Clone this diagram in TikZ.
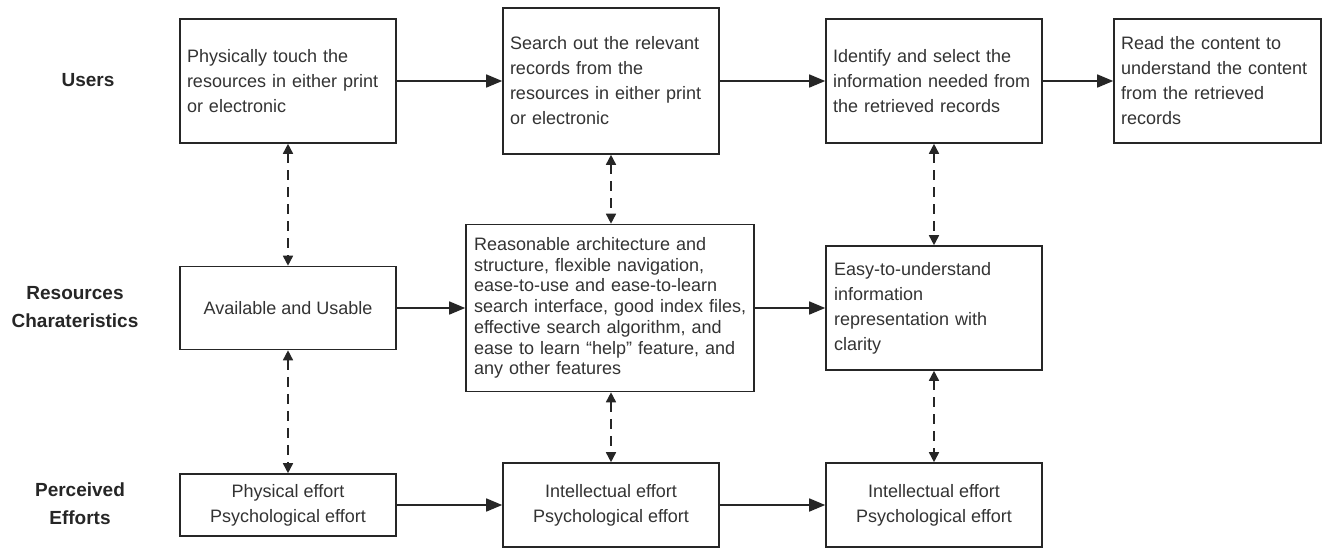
\documentclass[tikz,border=0pt]{standalone}
\usepackage{fontspec}
\setmainfont{Liberation Sans}
\usetikzlibrary{arrows.meta}
\definecolor{ink}{HTML}{262626}
\definecolor{txt}{HTML}{333333}
\begin{document}
\begin{tikzpicture}[x=1pt,y=-1pt,
  box/.style={draw=ink,line width=1.6pt,fill=white,inner xsep=7pt,inner ysep=0pt,
    text=txt,font=\fontsize{18}{25}\selectfont},
  leftbox/.style={box,align=left,text width=#1},
  midbox/.style={box,align=center,minimum width=216pt},
  rowlabel/.style={align=center,text=ink,font=\fontsize{19}{28}\selectfont\bfseries},
  flow/.style={draw=ink,line width=1.6pt,-{Triangle[length=16pt,width=13pt]}},
  link/.style={draw=ink,line width=1.6pt,dash pattern=on 10pt off 7pt,
    {Triangle[length=10pt,width=10pt]}-{Triangle[length=10pt,width=10pt]}}]
\useasboundingbox (0,0) rectangle (1323,547);

% row labels
\node[rowlabel] (lu) at (88,80) {Users};
\node[rowlabel] (lr) at (75,307) {Resources\\Charateristics};
\node[rowlabel] (le) at (80,504) {Perceived\\Efforts};

% users row
\node[leftbox=202pt,minimum height=124pt] (u1) at (288,81)
  {Physically touch the\\resources in either print\\or electronic};
\node[leftbox=202pt,minimum height=146pt] (u2) at (611,81)
  {Search out the relevant\\records from the\\resources in either print\\or electronic};
\node[leftbox=202pt,minimum height=124pt] (u3) at (934,81)
  {Identify and select the\\information needed from\\the retrieved records};
\node[leftbox=193pt,minimum height=124pt] (u4) at (1217.5,81)
  {Read the content to\\understand the content\\from the retrieved\\records};

% resources row
\node[midbox,minimum height=83pt] (r1) at (288,308) {Available and Usable};
\node[leftbox=272pt,inner xsep=8pt,minimum height=167pt,font=\fontsize{18}{20.7}\selectfont] (r2) at (610,308)
  {\mbox{Reasonable architecture and}\\\mbox{structure, flexible navigation,}\\\mbox{ease-to-use and ease-to-learn}\\\mbox{search interface, good index files,}\\\mbox{effective search algorithm, and}\\\mbox{ease to learn “help” feature, and}\\\mbox{any other features}};
\node[leftbox=200pt,inner xsep=8pt,minimum height=124pt] (r3) at (934,308)
  {Easy-to-understand\\information\\representation with\\clarity};

% efforts row
\node[midbox,minimum height=62pt] (e1) at (288,505) {Physical effort\\Psychological effort};
\node[midbox,minimum height=84pt] (e2) at (611,505) {Intellectual effort\\Psychological effort};
\node[midbox,minimum height=84pt] (e3) at (934,505) {Intellectual effort\\Psychological effort};

% horizontal flow
\draw[flow] (u1) -- (u2);
\draw[flow] (u2) -- (u3);
\draw[flow] (u3) -- (u4);
\draw[flow] (r1) -- (r2);
\draw[flow] (r2) -- (r3);
\draw[flow] (e1) -- (e2);
\draw[flow] (e2) -- (e3);

% vertical links
\draw[link] (u1.south) -- (r1.north);
\draw[link] (r1.south) -- (e1.north);
\draw[link] (u2.south) -- (u2.south |- r2.north);
\draw[link] (e2.north |- r2.south) -- (e2.north);
\draw[link] (u3.south) -- (r3.north);
\draw[link] (r3.south) -- (e3.north);
\end{tikzpicture}
\end{document}
